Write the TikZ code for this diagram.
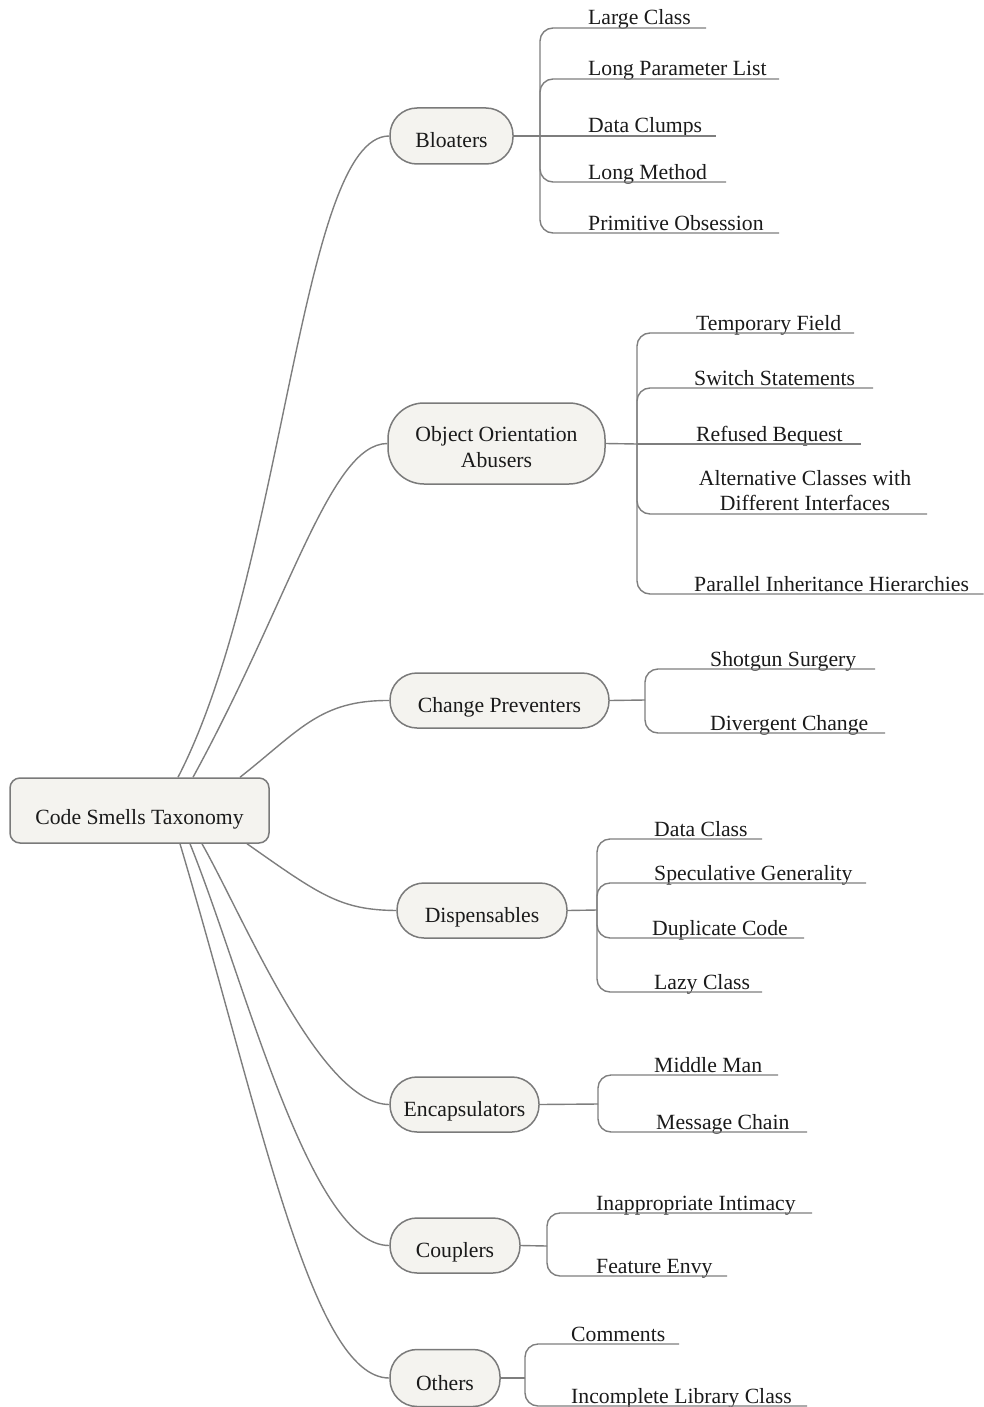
\documentclass[tikz,border=0pt]{standalone}
\usepackage{fontspec}
\setmainfont{Liberation Serif}
\definecolor{wire}{HTML}{7E7E7E}
\definecolor{edge}{HTML}{7A7A7A}
\definecolor{boxfill}{HTML}{F4F3EF}
\definecolor{ink}{HTML}{1A1A1A}
\begin{document}
\begin{tikzpicture}[x=1pt,y=-1pt,
  every node/.style={font=\fontsize{21.7}{25.5}\selectfont, text=ink},
  rootbox/.style={draw=edge, fill=boxfill, line width=1.5pt, rounded corners=10pt,
    minimum width=259pt, minimum height=65pt, inner sep=0pt,
    text height=27pt, text depth=0pt},
  catbox/.style={draw=edge, fill=boxfill, line width=1.5pt, rounded corners=27pt,
    inner sep=0pt, text height=24pt, text depth=0pt},
  leaftext/.style={anchor=base west, inner sep=0pt},
  link/.style={draw=wire, line width=1.4pt},
  branch/.style={link, rounded corners=13pt}]
\useasboundingbox (0,0) rectangle (984,1407);

% root
\node[rootbox] (root) at (139.5,810.5) {Code Smells Taxonomy};

% categories
\node[catbox, minimum width=123pt, minimum height=56pt] (blo) at (451.5,136) {Bloaters};
\node[catbox, minimum width=217pt, minimum height=81pt, rounded corners=36pt,
      text height=47.4pt] (ooa) at (496.5,443.5)
      {\begin{tabular}[b]{@{}c@{}}Object Orientation\\Abusers\end{tabular}};
\node[catbox, minimum width=219pt, minimum height=55pt] (chp) at (499.5,700.5) {Change Preventers};
\node[catbox, minimum width=170pt, minimum height=55pt] (dis) at (482,910.5) {Dispensables};
\node[catbox, minimum width=149pt, minimum height=55pt] (enc) at (464.5,1104.5) {Encapsulators};
\node[catbox, minimum width=130pt, minimum height=55pt] (cou) at (455,1245.5) {Couplers};
\node[catbox, minimum width=110pt, minimum height=57pt] (oth) at (445,1378) {Others};

% root to categories
\draw[link] ([xshift=38.5pt]root.north) .. controls (285,570) and (300,136) .. (blo.west);
\draw[link] ([xshift=53.5pt]root.north) .. controls (290,600) and (330,444) .. (ooa.west);
\draw[link] ([xshift=100.5pt]root.north) .. controls (300,730) and (320,700) .. (chp.west);
\draw[link] ([xshift=107.5pt]root.south) .. controls (320,895) and (340,910) .. (dis.west);
\draw[link] ([xshift=62.5pt]root.south) .. controls (245,920) and (320,1104) .. (enc.west);
\draw[link] ([xshift=50.5pt]root.south) .. controls (245,980) and (310,1246) .. (cou.west);
\draw[link] ([xshift=40.5pt]root.south) .. controls (262,1120) and (312,1378) .. (oth.west);

% Bloaters
\coordinate (bS) at (540,136);
\draw[link] (blo.east) -- (bS);
\node[leaftext] (b1) at (588,25) {Large Class};
\node[leaftext] (b2) at (588,76) {Long Parameter List};
\node[leaftext] (b3) at (588,133) {Data Clumps};
\node[leaftext] (b4) at (588,179) {Long Method};
\node[leaftext] (b5) at (588,230) {Primitive Obsession};
\coordinate (b1e) at (706,28);
\coordinate (b2e) at (779,79);
\coordinate (b3e) at (716,136);
\coordinate (b4e) at (726,182);
\coordinate (b5e) at (779,233);
\draw[branch] (bS) |- (b1e);
\draw[branch] (bS) |- (b2e);
\draw[link] (bS) -- (b3e);
\draw[branch] (bS) |- (b4e);
\draw[branch] (bS) |- (b5e);

% Object Orientation Abusers
\coordinate (oS) at (637,444);
\draw[link] (ooa.east) -- (oS);
\node[leaftext] (o1) at (696,330) {Temporary Field};
\node[leaftext] (o2) at (694,385) {Switch Statements};
\node[leaftext] (o3) at (696,441) {Refused Bequest};
\node[anchor=south, inner sep=0pt, align=center] (o4) at (805,511) {Alternative Classes with\\Different Interfaces};
\node[leaftext] (o5) at (694,591) {Parallel Inheritance Hierarchies};
\coordinate (o1e) at (854,333);
\coordinate (o2e) at (873,388);
\coordinate (o3e) at (861,444);
\coordinate (o4e) at (927,514);
\coordinate (o5e) at (983.5,594);
\draw[branch] (oS) |- (o1e);
\draw[branch] (oS) |- (o2e);
\draw[link] (oS) -- (o3e);
\draw[branch] (oS) |- (o4e);
\draw[branch] (oS) |- (o5e);

% Change Preventers
\coordinate (cS) at (645,700);
\draw[link] (chp.east) -- (cS);
\node[leaftext] (c1) at (710,666) {Shotgun Surgery};
\node[leaftext] (c2) at (710,730) {Divergent Change};
\coordinate (c1e) at (875,669);
\coordinate (c2e) at (885,733);
\draw[branch] (cS) |- (c1e);
\draw[branch] (cS) |- (c2e);

% Dispensables
\coordinate (dS) at (597,910);
\draw[link] (dis.east) -- (dS);
\node[leaftext] (d1) at (654,836) {Data Class};
\node[leaftext] (d2) at (654,880) {Speculative Generality};
\node[leaftext] (d3) at (652,935) {Duplicate Code};
\node[leaftext] (d4) at (654,989) {Lazy Class};
\coordinate (d1e) at (762,839);
\coordinate (d2e) at (866,883);
\coordinate (d3e) at (804,938);
\coordinate (d4e) at (762,992);
\draw[branch] (dS) |- (d1e);
\draw[branch] (dS) |- (d2e);
\draw[branch] (dS) |- (d3e);
\draw[branch] (dS) |- (d4e);

% Encapsulators
\coordinate (eS) at (598,1104);
\draw[link] (enc.east) -- (eS);
\node[leaftext] (e1) at (654,1072) {Middle Man};
\node[leaftext] (e2) at (656,1129) {Message Chain};
\coordinate (e1e) at (778,1075);
\coordinate (e2e) at (807,1132);
\draw[branch] (eS) |- (e1e);
\draw[branch] (eS) |- (e2e);

% Couplers
\coordinate (kS) at (547,1246);
\draw[link] (cou.east) -- (kS);
\node[leaftext] (k1) at (596,1210) {Inappropriate Intimacy};
\node[leaftext] (k2) at (596,1273) {Feature Envy};
\coordinate (k1e) at (812,1213);
\coordinate (k2e) at (727,1276);
\draw[branch] (kS) |- (k1e);
\draw[branch] (kS) |- (k2e);

% Others
\coordinate (tS) at (525,1378);
\draw[link] (oth.east) -- (tS);
\node[leaftext] (t1) at (571,1341) {Comments};
\node[leaftext] (t2) at (571,1403) {Incomplete Library Class};
\coordinate (t1e) at (679,1344);
\coordinate (t2e) at (807,1406);
\draw[branch] (tS) |- (t1e);
\draw[branch] (tS) |- (t2e);
\end{tikzpicture}
\end{document}
